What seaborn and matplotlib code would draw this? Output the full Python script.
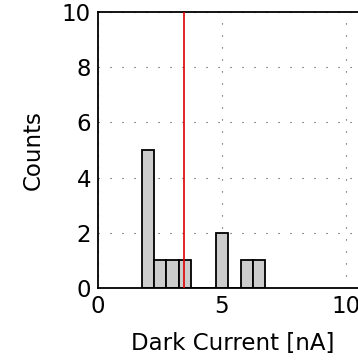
import numpy as np
import pandas as pd
import matplotlib
matplotlib.use("Agg")
import matplotlib.pyplot as plt
import seaborn as sns

# Histogram data (bin centers and counts)
bin_centers = [2.01, 2.51, 3.01, 3.51, 4.01, 4.51, 5.01, 5.51, 6.01, 6.51]
counts = [5, 1, 1, 1, 0, 0, 2, 0, 1, 1]
bin_start = 1.76
bin_stop = 6.76
n_bins = 10
threshold = 3.48
x_ticks = [0, 5, 10]
y_ticks = [0, 2, 4, 6, 8, 10]

sns.set_theme(style="white")
plt.rcParams['font.family'] = ['DejaVu Sans']

df = pd.DataFrame({"current": bin_centers, "count": counts})

W, H = 358, 362
fig = plt.figure(figsize=(W / 100, H / 100), dpi=100)
left_px, right_px, top_px, bot_px = 98, 395, 12, 288
ax = fig.add_axes([left_px / W, 1 - bot_px / H, (right_px - left_px) / W, (bot_px - top_px) / H])

sns.histplot(data=df, x="current", weights="count", bins=n_bins, binrange=(bin_start, bin_stop),
             color="#cccccc", edgecolor="black", linewidth=1.3, alpha=1, ax=ax, zorder=2)
ax.axvline(threshold, color="#dd0000", linewidth=1.2, zorder=3)

ax.set_xlim(0, 12)
ax.set_ylim(0, 10)
ax.set_xticks(x_ticks)
ax.set_yticks(y_ticks)
ax.grid(True, linestyle=(0, (1, 9.8)), color="#444444", linewidth=0.8, zorder=0)
ax.set_axisbelow(True)
for s in ax.spines.values():
    s.set_color("black")
    s.set_linewidth(1.3)
fs = 16.5
ax.tick_params(axis="both", direction="in", length=3, width=0.8, labelsize=fs, colors="black",
               labelcolor="black", pad=5)
ax.set_xlabel("Dark Current [nA]", fontsize=fs, color="black")
ax.set_ylabel("Counts", fontsize=fs, color="black")
ax.xaxis.set_label_coords((233 - left_px) / (right_px - left_px), -0.16)
ax.yaxis.set_label_coords(-0.18, 0.5)

fig.savefig("out.png", dpi=100)
